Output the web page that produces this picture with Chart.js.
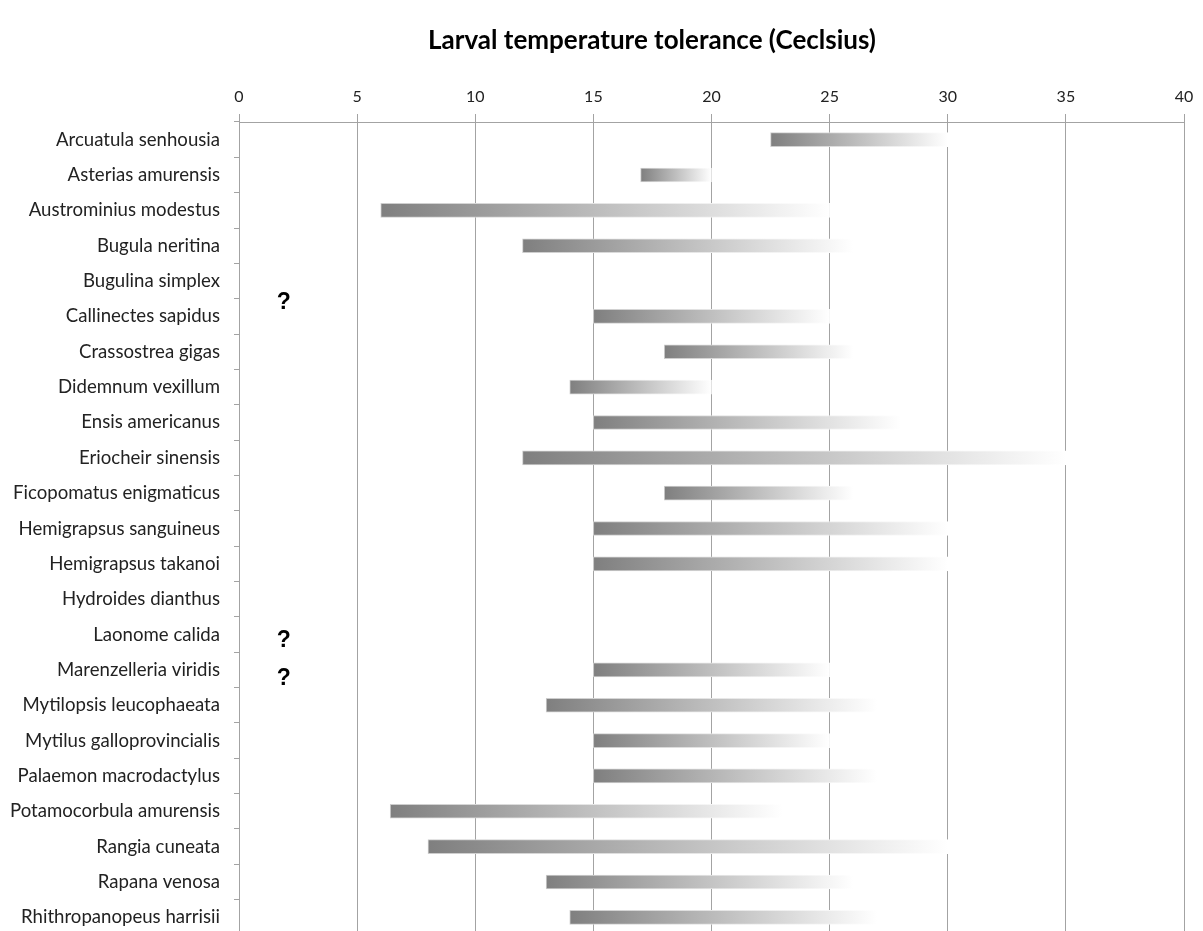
<!DOCTYPE html>
<html>
<head>
<meta charset="utf-8">
<script src="https://cdn.jsdelivr.net/npm/chart.js@4/dist/chart.umd.min.js"></script>
<style>
  html, body { margin: 0; padding: 0; background: #ffffff; overflow: hidden; }
  #wrap { position: relative; width: 1203px; height: 935px; }
</style>
</head>
<body>
<div id="wrap"><canvas id="chart"></canvas></div>
<script>
// Species, one row each, top to bottom
const species = [
  'Arcuatula senhousia', 'Asterias amurensis', 'Austrominius modestus', 'Bugula neritina',
  'Bugulina simplex', 'Callinectes sapidus', 'Crassostrea gigas', 'Didemnum vexillum',
  'Ensis americanus', 'Eriocheir sinensis', 'Ficopomatus enigmaticus', 'Hemigrapsus sanguineus',
  'Hemigrapsus takanoi', 'Hydroides dianthus', 'Laonome calida', 'Marenzelleria viridis',
  'Mytilopsis leucophaeata', 'Mytilus galloprovincialis', 'Palaemon macrodactylus',
  'Potamocorbula amurensis', 'Rangia cuneata', 'Rapana venosa', 'Rhithropanopeus harrisii'
];

// Lower and upper larval temperature limits (°C); null = no data
const tolMin = [22.5, 17, 6, 12, null, 15, 18, 14, 15, 12, 18, 15, 15, null, null, 15, 13, 15, 15, 6.4, 8, 13, 14];
const tolMax = [30,   20, 25, 26, null, 25, 26, 20, 28, 35, 26, 30, 30, null, null, 25, 27, 25, 27, 23,  30, 26, 27];

// Temperature axis ticks
const tempTicks = [0, 5, 10, 15, 20, 25, 30, 35, 40];

// Rows flagged with a question mark, with their offset inside the row band
const unknownRows  = ['Bugulina simplex', 'Laonome calida', 'Marenzelleria viridis'];
const unknownShift = [0.62, 0.18, 0.24];
const unknownTemp  = 1.9;

const titleText = 'Larval temperature tolerance (Ceclsius)';
const FONT = "Lato, 'Open Sans', sans-serif";
const GRID = '#a3a3a3';

const ranges = species.map((s, i) =>
  tolMin[i] == null || tolMax[i] == null ? null : [tolMin[i], tolMax[i]]);

// Each bar fades from grey at its lower limit to white at its upper limit
function rangeGradient(ctx, from, to) {
  const chart = ctx.chart;
  const raw = ctx.raw;
  if (!raw || !chart.chartArea || !chart.scales.x) return from;
  const xs = chart.scales.x;
  const a = xs.getPixelForValue(raw[0]);
  const b = xs.getPixelForValue(raw[1]);
  const g = chart.ctx.createLinearGradient(a, 0, b, 0);
  g.addColorStop(0, from);
  g.addColorStop(1, to);
  return g;
}

const titlePlugin = {
  id: 'titleText',
  afterDraw(chart) {
    const c = chart.ctx;
    c.save();
    c.font = `bold 26px ${FONT}`;
    c.fillStyle = '#000000';
    c.textAlign = 'center';
    c.textBaseline = 'middle';
    c.fillText(titleText, 652, 41);
    c.restore();
  }
};

const unknownPlugin = {
  id: 'unknownMarks',
  afterDatasetsDraw(chart) {
    const c = chart.ctx;
    const xs = chart.scales.x, ys = chart.scales.y;
    c.save();
    c.font = "bold 23px 'Liberation Sans', Arial, sans-serif";
    c.fillStyle = '#000000';
    c.textAlign = 'center';
    c.textBaseline = 'middle';
    unknownRows.forEach((row, i) => {
      const idx = species.indexOf(row);
      const y = ys.getPixelForValue(idx + unknownShift[i]);
      const x = xs.getPixelForValue(unknownTemp);
      c.fillText('?', x, y);
    });
    c.restore();
  }
};

new Chart(document.getElementById('chart'), {
  type: 'bar',
  data: {
    labels: species,
    datasets: [{
      data: ranges,
      barThickness: 14,
      borderWidth: 1,
      borderSkipped: false,
      backgroundColor: ctx => rangeGradient(ctx, '#7f7f7f', '#ffffff'),
      borderColor: ctx => rangeGradient(ctx, '#cccccc', '#ffffff')
    }]
  },
  options: {
    indexAxis: 'y',
    responsive: true,
    maintainAspectRatio: false,
    animation: false,
    layout: { padding: { top: 0, right: 19, bottom: 0, left: 0 } },
    plugins: {
      legend: { display: false },
      tooltip: { enabled: false },
      title: { display: false }
    },
    scales: {
      x: {
        type: 'linear',
        position: 'top',
        min: 0,
        max: 40,
        afterBuildTicks(scale) { scale.ticks = tempTicks.map(v => ({ value: v })); },
        afterFit(scale) { scale.height = 122; },
        ticks: { padding: 8, color: '#222222', font: { family: FONT, size: 16 } },
        grid: { color: GRID, lineWidth: 1, drawTicks: true, tickLength: 8, tickColor: GRID },
        border: { display: true, color: GRID }
      },
      y: {
        type: 'category',
        offset: true,
        afterFit(scale) {
          scale.width = 239;
          scale.paddingTop = 0;
          scale.paddingBottom = 0;
        },
        ticks: { padding: 14, autoSkip: false, color: '#222222', font: { family: FONT, size: 18.6 } },
        grid: { offset: true, drawOnChartArea: false, drawTicks: true, tickLength: 5, color: GRID },
        border: { display: true, color: GRID }
      }
    }
  },
  plugins: [titlePlugin, unknownPlugin]
});
</script>
</body>
</html>
